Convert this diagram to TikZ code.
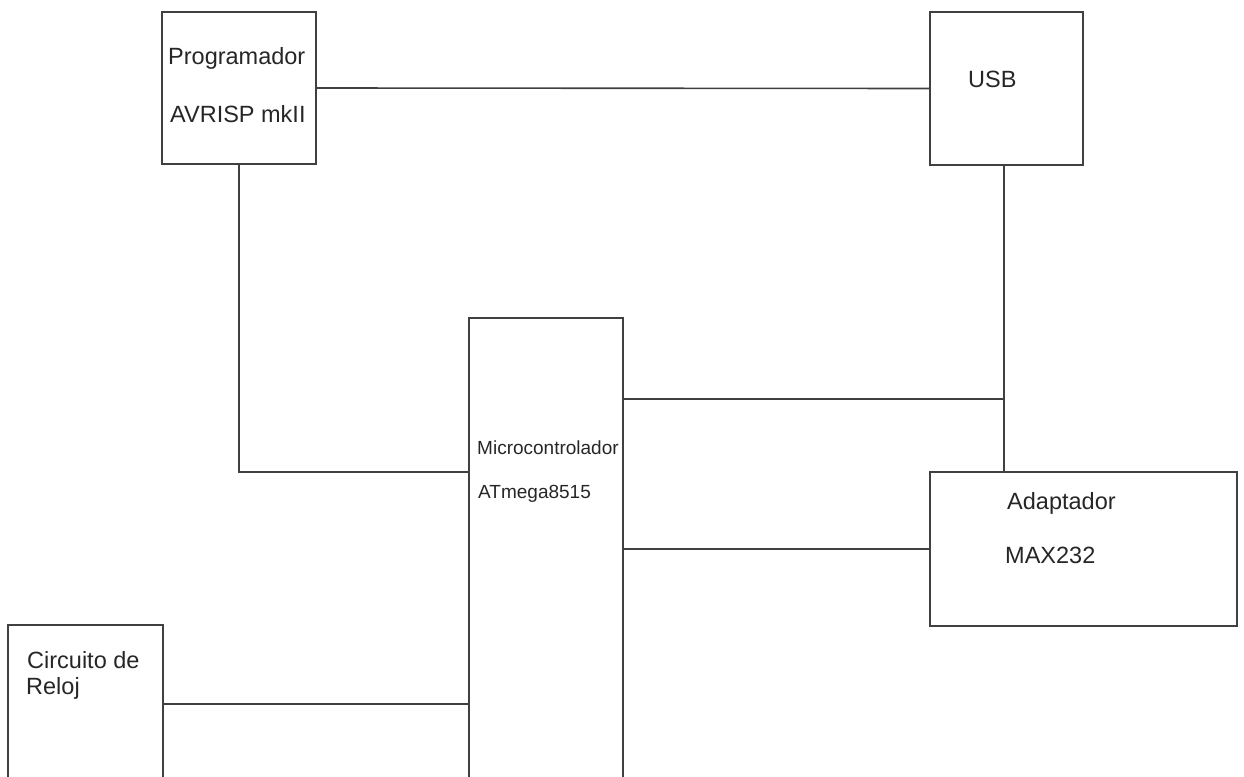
\documentclass[tikz,border=0pt]{standalone}
\usepackage{fontspec}
\setmainfont{Liberation Sans}
\begin{document}
\begin{tikzpicture}[x=1pt,y=-1pt,
  box/.style={draw=black!75,line width=1.6pt,rectangle,inner sep=0pt},
  wire/.style={draw=black!75,line width=1.6pt},
  lbl/.style={anchor=base west,inner sep=0pt,text=black!85,font=\fontsize{23.5}{28}\selectfont},
  slbl/.style={anchor=base west,inner sep=0pt,text=black!85,font=\fontsize{19}{23}\selectfont}]
\useasboundingbox (0,0) rectangle (1244,776);
\clip (0,0) rectangle (1244,776);
% boxes
\node[box,minimum width=154pt,minimum height=152pt] (prog) at (239,88) {};
\node[box,minimum width=153pt,minimum height=153pt] (usb) at (1006.5,88.5) {};
\node[box,minimum width=154pt,minimum height=542pt] (micro) at (546,589) {};
\node[box,minimum width=307pt,minimum height=154pt] (adapt) at (1083.5,549) {};
\node[box,minimum width=155pt,minimum height=235pt] (reloj) at (85.5,742.5) {};
% labels
\node[lbl] (t1) at (168,65) {Programador};
\node[lbl] (t2) at (170,122) {AVRISP mkII};
\node[lbl] (t3) at (968,87) {USB};
\node[slbl] (t4) at (477,454) {Microcontrolador};
\node[slbl] (t5) at (478,498) {ATmega8515};
\node[lbl] (t6) at (1007,509) {Adaptador};
\node[lbl] (t7) at (1005,563) {MAX232};
\node[lbl] (t8) at (27,668) {Circuito de};
\node[lbl] (t9) at (26,694) {Reloj};
% connectors
\coordinate (j) at (1004,399);
\draw[wire] (prog.east) -- (usb.west);
\draw[wire] (prog.south) |- (micro.west |- 0,472);
\draw[wire] (usb.south -| j) -- (adapt.north -| j);
\draw[wire] (micro.east |- j) -- (j);
\draw[wire] (micro.east |- adapt.west) -- (adapt.west);
\draw[wire] (reloj.east |- 0,704) -- (micro.west |- 0,704);
\end{tikzpicture}
\end{document}
